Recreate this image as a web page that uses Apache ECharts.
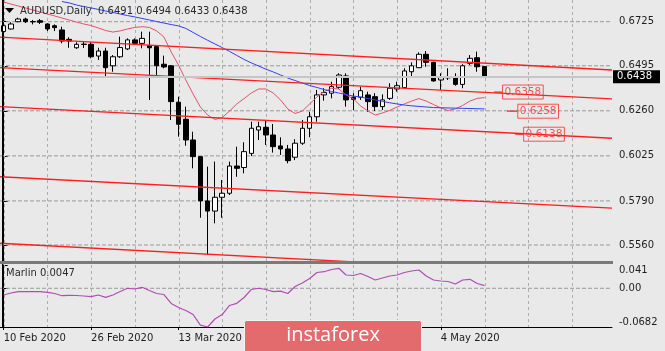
<!DOCTYPE html>
<html>
<head>
<meta charset="utf-8">
<script src="https://cdn.jsdelivr.net/npm/echarts@6/dist/echarts.min.js"></script>
<style>
  html, body { margin: 0; padding: 0; background: #e9e9e9; }
  #chart { width: 665px; height: 351px; }
</style>
</head>
<body>
<div id="chart"></div>
<script>
// AUDUSD daily, bar 0 = 10 Feb 2020, bar 66 = 12 May 2020
const opens  = [0.6674,0.6687,0.6725,0.6739,0.6726,0.6730,0.6713,0.6704,0.6682,0.6633,
                0.6589,0.6608,0.6607,0.6546,0.6572,0.6495,0.6542,0.6583,0.6630,0.6612,
                0.6600,0.6595,0.6503,0.6495,0.6305,0.6216,0.6108,0.6021,0.5790,0.5737,
                0.5809,0.5830,0.5972,0.5964,0.6038,0.6160,0.6174,0.6134,0.6077,0.6061,
                0.6018,0.6091,0.6169,0.6229,0.6343,0.6352,0.6383,0.6442,0.6331,0.6331,
                0.6343,0.6334,0.6282,0.6325,0.6374,0.6381,0.6464,0.6485,0.6555,0.6513,
                0.6421,0.6434,0.6433,0.6398,0.6508,0.6537,0.6491]
const highs  = [0.6708,0.6722,0.6746,0.6746,0.6734,0.6739,0.6717,0.6711,0.6699,0.6644,
                0.6618,0.6621,0.6618,0.6589,0.6589,0.6551,0.6647,0.6638,0.6638,0.6673,
                0.6673,0.6603,0.6548,0.6498,0.6334,0.6282,0.6151,0.6024,0.5969,0.5995,
                0.5899,0.5995,0.6073,0.6096,0.6203,0.6203,0.6212,0.6191,0.6122,0.6082,
                0.6112,0.6212,0.6255,0.6369,0.6378,0.6412,0.6456,0.6456,0.6352,0.6386,
                0.6360,0.6352,0.6346,0.6404,0.6412,0.6482,0.6513,0.6565,0.6572,0.6516,
                0.6456,0.6482,0.6456,0.6503,0.6551,0.6569,0.6494]
const lows   = [0.6671,0.6684,0.6722,0.6718,0.6711,0.6713,0.6676,0.6676,0.6612,0.6589,
                0.6583,0.6588,0.6534,0.6525,0.6438,0.6464,0.6536,0.6577,0.6603,0.6586,
                0.6317,0.6447,0.6482,0.6212,0.6125,0.6078,0.5960,0.5702,0.5508,0.5673,
                0.5702,0.5821,0.5916,0.5934,0.6024,0.6108,0.6082,0.6042,0.6030,0.5986,
                0.6003,0.6082,0.6122,0.6203,0.6313,0.6325,0.6374,0.6282,0.6264,0.6317,
                0.6255,0.6259,0.6264,0.6317,0.6360,0.6378,0.6433,0.6483,0.6490,0.6412,
                0.6369,0.6421,0.6391,0.6378,0.6499,0.6464,0.6433]
const closes = [0.6704,0.6713,0.6739,0.6725,0.6724,0.6722,0.6687,0.6694,0.6624,0.6624,
                0.6607,0.6606,0.6542,0.6572,0.6485,0.6542,0.6590,0.6630,0.6612,0.6638,
                0.6589,0.6495,0.6489,0.6308,0.6190,0.6108,0.6021,0.5790,0.5737,0.5809,
                0.5830,0.5972,0.5960,0.6047,0.6169,0.6177,0.6134,0.6073,0.6061,0.6000,
                0.6091,0.6169,0.6229,0.6343,0.6355,0.6386,0.6447,0.6317,0.6320,0.6365,
                0.6308,0.6282,0.6317,0.6378,0.6391,0.6468,0.6495,0.6555,0.6513,0.6416,
                0.6433,0.6432,0.6398,0.6495,0.6534,0.6490,0.6438]

// red (fast) moving average, from bar 0
const redMa = [0.6828,0.6817,0.6807,0.6797,0.6786,0.6776,0.6765,0.6755,0.6744,0.6734,
               0.6723,0.6713,0.6705,0.6692,0.6679,0.6671,0.6677,0.6687,0.6695,0.6699,
               0.6695,0.6677,0.6645,0.6567,0.6499,0.6421,0.6348,0.6280,0.6238,0.6215,
               0.6225,0.6259,0.6296,0.6324,0.6353,0.6374,0.6374,0.6353,0.6317,0.6270,
               0.6246,0.6259,0.6296,0.6332,0.6361,0.6377,0.6374,0.6343,0.6322,0.6285,
               0.6259,0.6238,0.6249,0.6262,0.6280,0.6296,0.6311,0.6324,0.6311,0.6293,
               0.6275,0.6262,0.6270,0.6288,0.6311,0.6325,0.6329]
// blue (slow) moving average, from bar 8
const blueStart = 8
const blueMa = [0.6830,0.6823,0.6812,0.6804,0.6797,0.6789,0.6781,0.6773,0.6765,0.6757,
                0.6750,0.6742,0.6734,0.6726,0.6718,0.6710,0.6703,0.6690,0.6669,0.6648,
                0.6628,0.6609,0.6590,0.6570,0.6549,0.6528,0.6510,0.6494,0.6477,0.6463,
                0.6447,0.6431,0.6418,0.6405,0.6392,0.6382,0.6371,0.6361,0.6353,0.6345,
                0.6337,0.6332,0.6324,0.6317,0.6309,0.6302,0.6296,0.6290,0.6286,0.6283,
                0.6280,0.6277,0.6276,0.6275,0.6274,0.6273,0.6272,0.6271,0.6270]

const marlin = [-0.0118,-0.0083,-0.0060,-0.0060,-0.0060,-0.0060,-0.0071,-0.0092,-0.0131,-0.0124,
                -0.0127,-0.0136,-0.0148,-0.0118,-0.0159,-0.0118,-0.0057,0.0000,-0.0013,0.0017,
                -0.0039,-0.0092,-0.0110,-0.0268,-0.0338,-0.0391,-0.0462,-0.0650,-0.0682,-0.0541,
                -0.0462,-0.0303,-0.0265,-0.0162,-0.0021,0.0000,-0.0021,-0.0060,-0.0051,-0.0092,
                0.0031,0.0093,0.0172,0.0278,0.0292,0.0331,0.0352,0.0234,0.0225,0.0260,
                0.0208,0.0146,0.0181,0.0216,0.0234,0.0278,0.0304,0.0322,0.0216,0.0146,
                0.0128,0.0119,0.0075,0.0146,0.0158,0.0084,0.0047]

// parallel channel lines: price at left edge and at right edge of the chart
const channelLeft  = [0.6644, 0.6485, 0.6282, 0.5916, 0.5569]
const channelRight = [0.6473, 0.6322, 0.6117, 0.5752, 0.5401]

// price label objects
const levelPrices = [0.6358, 0.6258, 0.6138]
const levelStubFrom = [67.3, 69.1, 70.2]
const levelStubTo   = [68.4, 70.5, 71.3]

const priceTicks  = [0.5560, 0.5790, 0.6025, 0.6260, 0.6495, 0.6725]
const marlinTicks = [-0.0682, 0, 0.041]
const gridBars    = [0, 6, 12, 18, 24, 30, 36, 42, 48, 54, 60, 66, 72, 78]
const dateBars    = [0, 12, 24, 36, 48, 60]
const dateLabels  = ['10 Feb 2020', '26 Feb 2020', '13 Mar 2020', '31 Mar 2020', '16 Apr 2020', '4 May 2020']

const xMin = -0.5, xMax = 83.5
const priceMin = 0.54765, priceMax = 0.68382
const marlinMin = -0.0682, marlinMax = 0.041
const FONT = 'DejaVu Sans'
const TXT = '#1e1e1e'
const GRID = '#9a9a9a'

const candles = opens.map((o, i) => [i, o, closes[i], lows[i], highs[i]])
const last = opens.length - 1

const plainLine = (xi, yi, z, data, color, width, dashed) => ({
  type: 'line', xAxisIndex: xi, yAxisIndex: yi, z,
  data, symbol: 'none', silent: true, animation: false,
  lineStyle: { color, width, type: dashed ? 'dashed' : 'solid' }
})

const channelSeries = channelLeft.map((p, k) =>
  plainLine(0, 0, 4, [[xMin, p], [xMax, channelRight[k]]], '#ff1e1e', 1.3))

const stubSeries = levelPrices.map((p, k) =>
  plainLine(0, 0, 5, [[levelStubFrom[k], p], [levelStubTo[k], p]], '#ff1e1e', 1.3))

// horizontal dotted grid at the labelled levels
const hGrid = [
  ...priceTicks.map(p => plainLine(0, 0, 1, [[xMin, p], [xMax, p]], GRID, 1, true)),
  plainLine(1, 1, 1, [[xMin, 0], [xMax, 0]], GRID, 1, true)
]

const staticGraphic = [
  { type: 'line', z: 10, shape: { x1: 2.5, y1: 0, x2: 2.5, y2: 328 }, style: { stroke: '#000', lineWidth: 1 } },
  { type: 'rect', z: 10, shape: { x: 0, y: 261, width: 613, height: 3 }, style: { fill: '#7a7a7a' } },
  { type: 'polygon', z: 10, shape: { points: [[5, 8], [14, 8], [9.5, 13]] }, style: { fill: '#000' } },
  {
    type: 'text', z: 10, left: 20, top: 6,
    style: {
      text: 'AUDUSD,Daily  ' + [opens[last], highs[last], lows[last], closes[last]].map(v => v.toFixed(4)).join(' '),
      fill: '#2a2a2a', font: '10px "DejaVu Sans"'
    }
  },
  {
    type: 'text', z: 10, left: 6, top: 268,
    style: { text: 'Marlin ' + marlin[last].toFixed(4), fill: '#2a2a2a', font: '10px "DejaVu Sans"' }
  },
  {
    type: 'rect', z: 20, shape: { x: 244.5, y: 320.5, width: 177, height: 34, r: 2 },
    style: { fill: '#e36b6d', stroke: '#f4f4f4', lineWidth: 1 }
  },
  {
    type: 'text', z: 21, x: 333, y: 335,
    style: {
      text: 'instaforex', fill: '#ffffff', font: '20px "Open Sans"',
      align: 'center', verticalAlign: 'middle'
    }
  }
]

const chart = echarts.init(document.getElementById('chart'))
chart.setOption({
  backgroundColor: '#e9e9e9',
  animation: false,
  grid: [
    { left: 0, right: 53, top: 0, height: 261 },
    { left: 0, right: 53, top: 265, height: 62 }
  ],
  xAxis: [
    {
      gridIndex: 0, type: 'value', min: xMin, max: xMax,
      axisLine: { show: false }, axisTick: { show: false },
      axisLabel: { show: false }, splitLine: { show: false }
    },
    {
      gridIndex: 1, type: 'value', min: xMin, max: xMax,
      axisLine: { show: true, onZero: false, lineStyle: { color: '#000' } },
      axisTick: { show: true, customValues: dateBars, length: 3, lineStyle: { color: '#000' } },
      axisLabel: {
        customValues: dateBars,
        formatter: v => dateLabels[dateBars.indexOf(v)] || '',
        align: 'left', margin: 6, color: TXT, fontSize: 10, fontFamily: FONT
      },
      splitLine: { show: false }
    }
  ],
  yAxis: [
    {
      gridIndex: 0, type: 'value', position: 'right',
      min: priceMin, max: priceMax,
      axisLine: { show: true, lineStyle: { color: '#000' } },
      axisTick: { show: true, length: 4, customValues: priceTicks, lineStyle: { color: '#000' } },
      axisLabel: {
        customValues: priceTicks, formatter: v => v.toFixed(4),
        margin: 7, color: TXT, fontSize: 10, fontFamily: FONT
      },
      splitLine: { show: false }
    },
    {
      gridIndex: 1, type: 'value', position: 'right',
      min: marlinMin, max: marlinMax,
      axisLine: { show: true, lineStyle: { color: '#000' } },
      axisTick: { show: true, length: 4, customValues: marlinTicks, lineStyle: { color: '#000' } },
      axisLabel: {
        customValues: marlinTicks,
        formatter: v => (v === 0 ? '0.00' : String(v)),
        verticalAlignMinLabel: 'bottom', verticalAlignMaxLabel: 'top',
        margin: 7, color: TXT, fontSize: 10, fontFamily: FONT
      },
      splitLine: { show: false }
    }
  ],
  series: [
    ...hGrid,
    {
      // bid line with the current price box
      type: 'line', xAxisIndex: 0, yAxisIndex: 0, z: 1, data: [],
      markLine: {
        symbol: 'none', silent: true, animation: false, precision: 4,
        data: [{ yAxis: closes[last] }],
        lineStyle: { color: '#c6c6c6', width: 2, type: 'solid' },
        label: {
          position: 'end', distance: 1,
          formatter: p => Number(p.value).toFixed(4),
          backgroundColor: '#000', color: '#fff',
          padding: [2, 8, 1, 4], fontSize: 10, fontFamily: FONT
        }
      }
    },
    {
      type: 'candlestick', xAxisIndex: 0, yAxisIndex: 0, z: 2,
      data: candles, barWidth: 5,
      itemStyle: {
        color: '#ffffff', color0: '#000000',
        borderColor: '#000000', borderColor0: '#000000', borderColorDoji: '#000000',
        borderWidth: 1
      }
    },
    plainLine(0, 0, 3, redMa.map((v, i) => [i, v]), '#e8506c', 1),
    plainLine(0, 0, 3, blueMa.map((v, i) => [i + blueStart, v]), '#3340f2', 1),
    ...channelSeries,
    ...stubSeries,
    {
      type: 'scatter', xAxisIndex: 0, yAxisIndex: 0, z: 6,
      data: levelPrices.map((p, k) => [levelStubTo[k], p]),
      symbolSize: 1, itemStyle: { color: 'rgba(0,0,0,0)' }, silent: true,
      label: {
        show: true, position: 'right', distance: 0,
        formatter: p => p.value[1].toFixed(4),
        color: '#ff2a2a', borderColor: '#ff2a2a', borderWidth: 1,
        padding: [2, 2, 1, 2], fontSize: 10.5, fontFamily: FONT
      }
    },
    plainLine(1, 1, 3, marlin.map((v, i) => [i, v]), '#b24bb6', 1.2)
  ],
  graphic: staticGraphic
})

// vertical dotted grid every 6 bars, placed through the axes' own scales
const yTop0 = chart.convertToPixel({ yAxisIndex: 0 }, priceMax)
const yBot0 = chart.convertToPixel({ yAxisIndex: 0 }, priceMin)
const yTop1 = chart.convertToPixel({ yAxisIndex: 1 }, marlinMax)
const yBot1 = chart.convertToPixel({ yAxisIndex: 1 }, marlinMin)
const vGrid = []
gridBars.forEach(b => {
  const x = Math.round(chart.convertToPixel({ xAxisIndex: 0 }, b)) + 0.5
  ;[[yTop0, yBot0], [yTop1, yBot1]].forEach(([t, d]) => {
    vGrid.push({
      type: 'line', z: 1, silent: true,
      shape: { x1: x, y1: t, x2: x, y2: d },
      style: { stroke: '#adadad', lineWidth: 1, lineDash: [3, 3] }
    })
  })
})
chart.setOption({ graphic: [...staticGraphic, ...vGrid] })
</script>
</body>
</html>
